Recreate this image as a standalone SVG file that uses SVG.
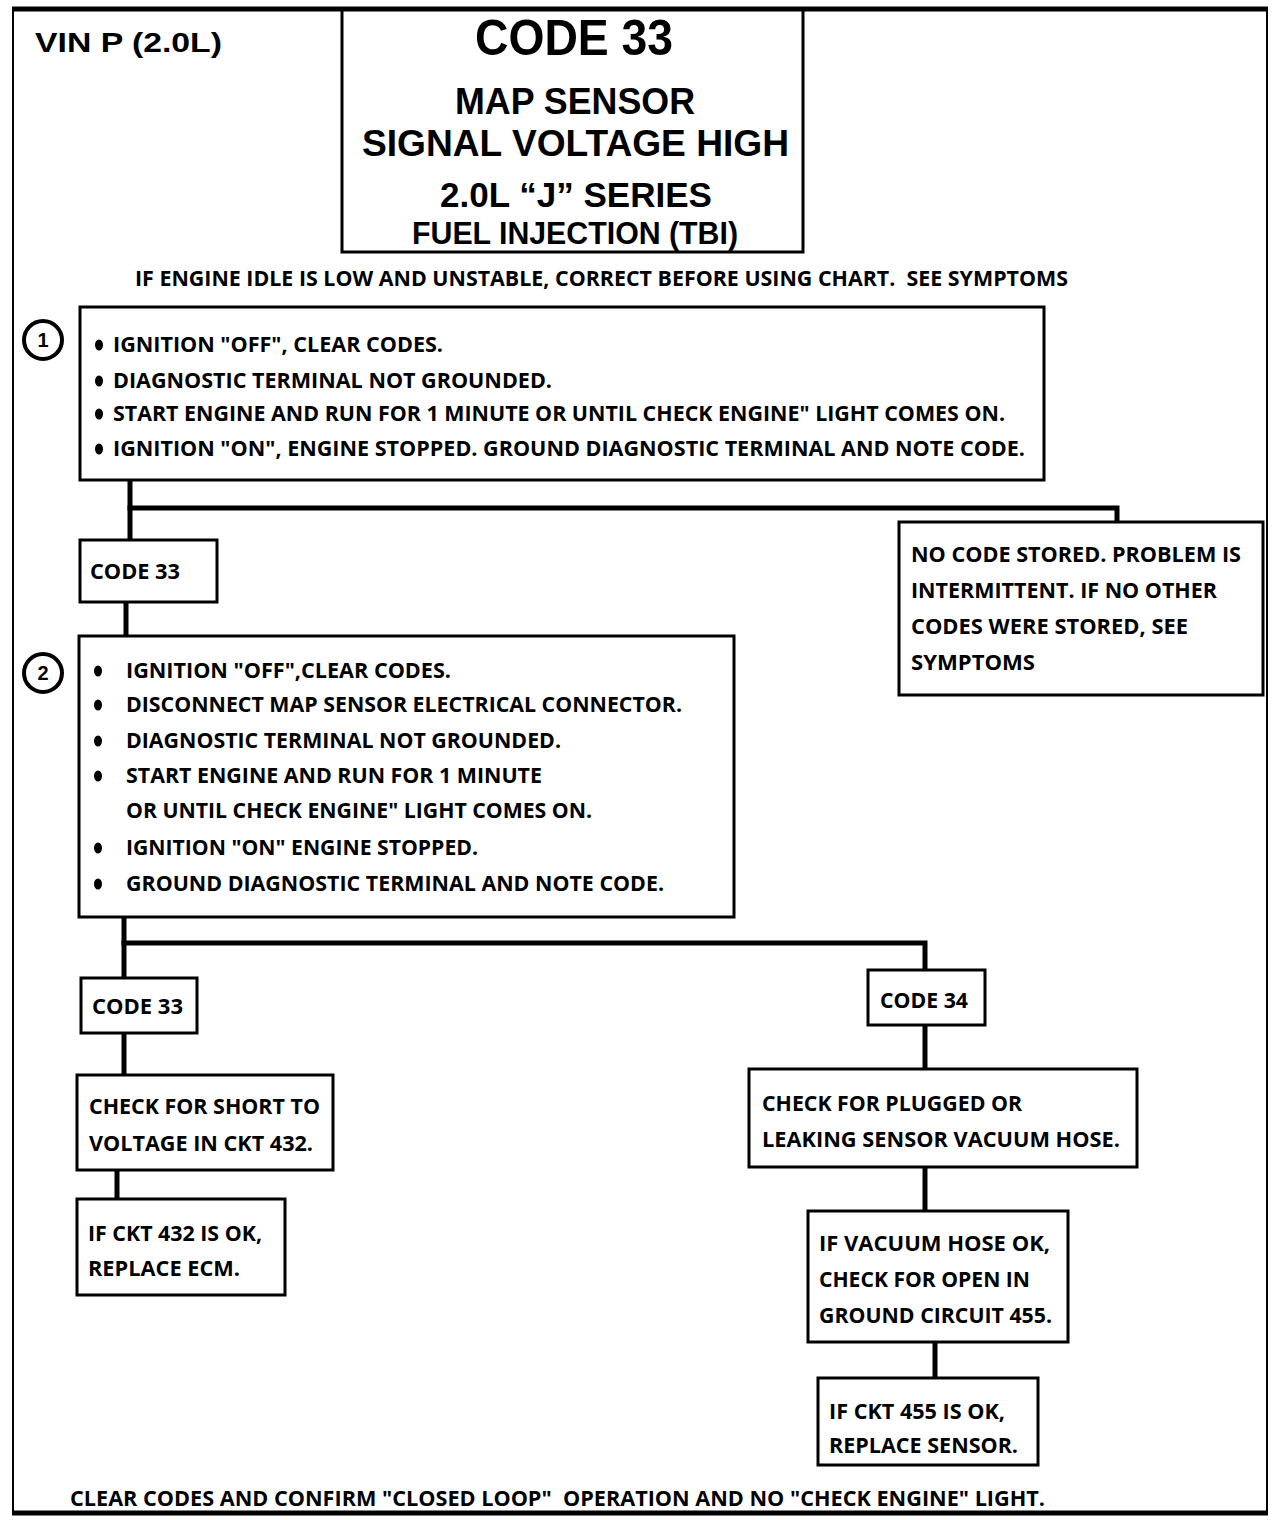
<svg xmlns="http://www.w3.org/2000/svg" width="1280" height="1520" viewBox="0 0 1280 1520">
<style>
.box{fill:#fff;stroke:#000;stroke-width:3}
.conn{stroke:#000;stroke-width:5;fill:none;stroke-linecap:square}
.t{font-family:"Open Sans","Liberation Sans",sans-serif;font-weight:700;fill:#000;white-space:pre}
.h{font-family:"Liberation Sans",Arial,sans-serif;font-weight:700;fill:#000;white-space:pre}
.s{font-size:22px}
.c{font-size:21px}
.num{font-family:"Liberation Sans",sans-serif;font-weight:700;font-size:20px;fill:#000;text-anchor:middle}
.ring{fill:#fff;stroke:#000;stroke-width:4}
</style>
<rect x="0" y="0" width="1280" height="1520" fill="#fff"/>
<g id="frame">
<line x1="12" y1="9" x2="1268" y2="9" stroke="#000" stroke-width="5"/>
<line x1="12" y1="1513" x2="1268" y2="1513" stroke="#000" stroke-width="5"/>
<line x1="13" y1="9" x2="13" y2="1513" stroke="#000" stroke-width="2"/>
<line x1="1267" y1="9" x2="1267" y2="1513" stroke="#000" stroke-width="2"/>
</g>
<g id="vin"><text x="35" y="52" font-family="Liberation Sans,sans-serif" font-size="28" font-weight="700" textLength="187" lengthAdjust="spacingAndGlyphs">VIN P (2.0L)</text></g>
<g id="title">
<rect class="box" x="342" y="10" width="461" height="242"/>
<text class="h" x="475" y="55" font-size="50" textLength="198" lengthAdjust="spacingAndGlyphs">CODE 33</text>
<text class="h" x="455" y="114" font-size="37" textLength="240" lengthAdjust="spacingAndGlyphs">MAP SENSOR</text>
<text class="h" x="362" y="156" font-size="37" textLength="427" lengthAdjust="spacingAndGlyphs">SIGNAL VOLTAGE HIGH</text>
<text class="h" x="440" y="207" font-size="35" textLength="272" lengthAdjust="spacingAndGlyphs">2.0L “J” SERIES</text>
<text class="h" x="412" y="244" font-size="31" textLength="326" lengthAdjust="spacingAndGlyphs">FUEL INJECTION (TBI)</text>
</g>
<g id="note-top"><text class="t" x="135" y="286" font-size="22" textLength="933" lengthAdjust="spacingAndGlyphs">IF ENGINE IDLE IS LOW AND UNSTABLE, CORRECT BEFORE USING CHART.  SEE SYMPTOMS</text></g>

<g id="connectors">
<polyline class="conn" points="130,480 130,540"/>
<polyline class="conn" points="130,508 1117,508 1117,522"/>
<polyline class="conn" points="126,602 126,636"/>
<polyline class="conn" points="124,917 124,978"/>
<polyline class="conn" points="124,943 925,943 925,970"/>
<polyline class="conn" points="124,1033 124,1075"/>
<polyline class="conn" points="117,1170 117,1198"/>
<polyline class="conn" points="925,1025 925,1068"/>
<polyline class="conn" points="925,1167 925,1210"/>
<polyline class="conn" points="935,1342 935,1377"/>
</g>

<g id="step1">
<circle class="ring" cx="43" cy="340" r="19"/>
<text class="num" x="43" y="347">1</text>
<rect class="box" x="80" y="307" width="964" height="173"/>
<g class="t s">
<ellipse cx="99" cy="345" rx="4" ry="5.5"/>
<ellipse cx="99" cy="381" rx="4" ry="5.5"/>
<ellipse cx="99" cy="414" rx="4" ry="5.5"/>
<ellipse cx="99" cy="449" rx="4" ry="5.5"/>
<text x="113" y="352" textLength="330" lengthAdjust="spacingAndGlyphs">IGNITION "OFF", CLEAR CODES.</text>
<text x="113" y="388" textLength="439" lengthAdjust="spacingAndGlyphs">DIAGNOSTIC TERMINAL NOT GROUNDED.</text>
<text x="113" y="421" textLength="892" lengthAdjust="spacingAndGlyphs">START  ENGINE AND RUN FOR 1 MINUTE OR UNTIL CHECK ENGINE" LIGHT COMES ON.</text>
<text x="113" y="456" textLength="912" lengthAdjust="spacingAndGlyphs">IGNITION "ON", ENGINE STOPPED.  GROUND DIAGNOSTIC TERMINAL AND NOTE CODE.</text>
</g>
</g>

<g id="code33a">
<rect class="box" x="80" y="540" width="137" height="62"/>
<text class="t c" x="90" y="579" textLength="90" lengthAdjust="spacingAndGlyphs">CODE 33</text>
</g>

<g id="nocode">
<rect class="box" x="899" y="522" width="364" height="173"/>
<g class="t c">
<text x="911" y="562" textLength="330" lengthAdjust="spacingAndGlyphs">NO CODE STORED.  PROBLEM IS</text>
<text x="911" y="598" textLength="306" lengthAdjust="spacingAndGlyphs">INTERMITTENT.  IF NO OTHER</text>
<text x="911" y="634" textLength="277" lengthAdjust="spacingAndGlyphs">CODES WERE STORED, SEE</text>
<text x="911" y="670" textLength="124" lengthAdjust="spacingAndGlyphs">SYMPTOMS</text>
</g>
</g>

<g id="step2">
<circle class="ring" cx="43" cy="673" r="19"/>
<text class="num" x="43" y="680">2</text>
<rect class="box" x="79" y="636" width="655" height="281"/>
<g class="t s">
<ellipse cx="98" cy="671" rx="4" ry="5.5"/>
<ellipse cx="98" cy="705" rx="4" ry="5.5"/>
<ellipse cx="98" cy="741" rx="4" ry="5.5"/>
<ellipse cx="98" cy="776" rx="4" ry="5.5"/>
<ellipse cx="98" cy="848" rx="4" ry="5.5"/>
<ellipse cx="98" cy="884" rx="4" ry="5.5"/>
<text x="126" y="678" textLength="325" lengthAdjust="spacingAndGlyphs">IGNITION "OFF",CLEAR CODES.</text>
<text x="126" y="712" textLength="556" lengthAdjust="spacingAndGlyphs">DISCONNECT MAP SENSOR ELECTRICAL CONNECTOR.</text>
<text x="126" y="748" textLength="435" lengthAdjust="spacingAndGlyphs">DIAGNOSTIC TERMINAL NOT GROUNDED.</text>
<text x="126" y="783" textLength="416" lengthAdjust="spacingAndGlyphs">START  ENGINE AND RUN FOR 1 MINUTE</text>
<text x="126" y="818" textLength="466" lengthAdjust="spacingAndGlyphs">OR UNTIL CHECK ENGINE" LIGHT COMES ON.</text>
<text x="126" y="855" textLength="352" lengthAdjust="spacingAndGlyphs">IGNITION "ON" ENGINE STOPPED.</text>
<text x="126" y="891" textLength="538" lengthAdjust="spacingAndGlyphs">GROUND DIAGNOSTIC TERMINAL AND NOTE CODE.</text>
</g>
</g>

<g id="code33b">
<rect class="box" x="81" y="978" width="116" height="55"/>
<text class="t c" x="92" y="1014" textLength="91" lengthAdjust="spacingAndGlyphs">CODE 33</text>
</g>
<g id="code34">
<rect class="box" x="868" y="970" width="117" height="55"/>
<text class="t c" x="880" y="1008" textLength="88" lengthAdjust="spacingAndGlyphs">CODE 34</text>
</g>
<g id="short">
<rect class="box" x="77" y="1075" width="256" height="95"/>
<g class="t c">
<text x="89" y="1114" textLength="231" lengthAdjust="spacingAndGlyphs">CHECK FOR SHORT TO</text>
<text x="89" y="1151" textLength="224" lengthAdjust="spacingAndGlyphs">VOLTAGE IN CKT 432.</text>
</g>
</g>
<g id="ecm">
<rect class="box" x="77" y="1199" width="208" height="96"/>
<g class="t c">
<text x="88" y="1241" textLength="174" lengthAdjust="spacingAndGlyphs">IF CKT 432 IS OK,</text>
<text x="88" y="1276" textLength="152" lengthAdjust="spacingAndGlyphs">REPLACE ECM.</text>
</g>
</g>
<g id="plugged">
<rect class="box" x="749" y="1069" width="388" height="98"/>
<g class="t c">
<text x="762" y="1111" textLength="260" lengthAdjust="spacingAndGlyphs">CHECK FOR PLUGGED OR</text>
<text x="762" y="1147" textLength="358" lengthAdjust="spacingAndGlyphs">LEAKING SENSOR VACUUM HOSE.</text>
</g>
</g>
<g id="ground">
<rect class="box" x="808" y="1211" width="260" height="131"/>
<g class="t c">
<text x="819" y="1251" textLength="231" lengthAdjust="spacingAndGlyphs">IF VACUUM HOSE OK,</text>
<text x="819" y="1287" textLength="211" lengthAdjust="spacingAndGlyphs">CHECK FOR OPEN IN</text>
<text x="819" y="1323" textLength="233" lengthAdjust="spacingAndGlyphs">GROUND CIRCUIT 455.</text>
</g>
</g>
<g id="sensor">
<rect class="box" x="818" y="1378" width="220" height="87"/>
<g class="t c">
<text x="829" y="1419" textLength="176" lengthAdjust="spacingAndGlyphs">IF CKT 455 IS OK,</text>
<text x="829" y="1453" textLength="189" lengthAdjust="spacingAndGlyphs">REPLACE SENSOR.</text>
</g>
</g>
<g id="note-bottom"><text class="t" x="70" y="1506" font-size="21" textLength="975" lengthAdjust="spacingAndGlyphs">CLEAR CODES AND CONFIRM "CLOSED LOOP"  OPERATION AND NO "CHECK ENGINE" LIGHT.</text></g>
</svg>
